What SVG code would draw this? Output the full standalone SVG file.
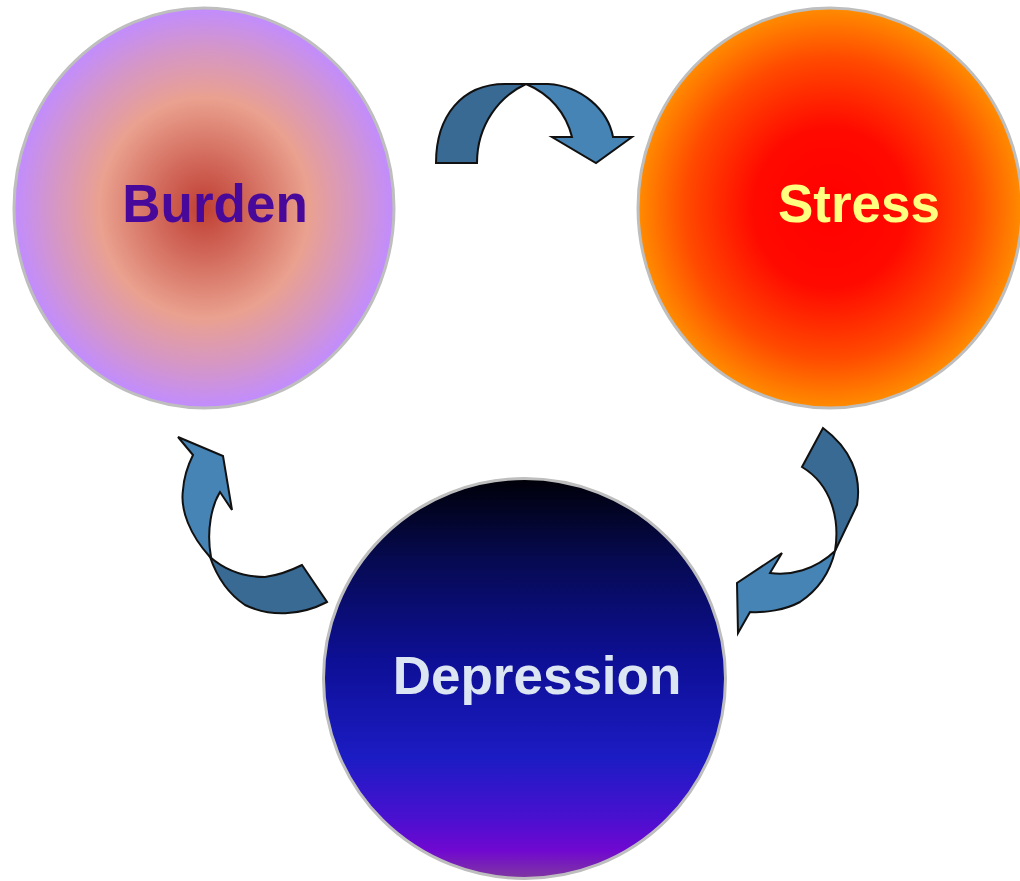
<svg xmlns="http://www.w3.org/2000/svg" width="1020" height="881" viewBox="0 0 1020 881">
<style>
.node{stroke:#BEBEBE;stroke-width:3}
.lbl{font-family:"Liberation Sans",Arial,sans-serif;font-weight:bold;font-size:53px;text-anchor:middle}
.light{fill:#4684B6;stroke:#111;stroke-width:2;stroke-linejoin:miter}
.dark{fill:#386A93;stroke:#111;stroke-width:2;stroke-linejoin:miter}
</style>
<defs>
<radialGradient id="gBurden" cx="0.5" cy="0.5" r="0.5">
<stop offset="0" stop-color="#C03F33"/>
<stop offset="0.25" stop-color="#D26A5C"/>
<stop offset="0.55" stop-color="#EAA18F"/>
<stop offset="0.8" stop-color="#D496C8"/>
<stop offset="1" stop-color="#C18CFF"/>
</radialGradient>
<radialGradient id="gStress" cx="0.5" cy="0.5" r="0.5">
<stop offset="0" stop-color="#FF0000"/>
<stop offset="0.4" stop-color="#FF0A00"/>
<stop offset="0.75" stop-color="#FF4A00"/>
<stop offset="1" stop-color="#FF8C00"/>
</radialGradient>
<linearGradient id="gDep" x1="0" y1="0" x2="0" y2="1">
<stop offset="0" stop-color="#000008"/>
<stop offset="0.2" stop-color="#060A50"/>
<stop offset="0.45" stop-color="#0D0F94"/>
<stop offset="0.7" stop-color="#1C1CC4"/>
<stop offset="0.85" stop-color="#4A10D0"/>
<stop offset="0.93" stop-color="#7008D0"/>
<stop offset="1" stop-color="#8038A0"/>
</linearGradient>
</defs>
<g id="connectors">
<g id="arrow-burden-stress">
<path class="dark" d="M436,163 C436,116 462,84 505,84 L526,84 C500,96 477,124 477,163 Z"/>
<path class="light" d="M526,84 L548,84 C582,86 608,110 613,137 L632,137 L596,163 L552,137 L572,137 C566,113 550,94 526,84 Z"/>
</g>
<g id="arrow-stress-depression">
<path class="dark" d="M823,428 C850,448 862,475 857,505 L835,551 C840,520 832,485 802,467 Z"/>
<path class="light" d="M835,551 C830,572 818,590 800,602 C785,610 765,613 750,612 L738,633 L737,583 L782,553 L770,573 C790,576 815,570 835,551 Z"/>
</g>
<g id="arrow-depression-burden">
<path class="dark" d="M327,602 C300,616 270,617 245,605 C230,595 218,580 210,557 C225,570 245,577 265,577 C280,575 292,570 302,565 Z"/>
<path class="light" d="M210,557 C190,535 180,510 183,490 C184,475 188,465 193,455 L178,437 L223,456 L232,510 L220,492 C212,505 206,530 211,557 Z"/>
</g>
</g>
<g id="node-burden">
<ellipse class="node" cx="204" cy="208" rx="190" ry="200" fill="url(#gBurden)"/>
<text class="lbl" x="215" y="222" fill="#48089A">Burden</text>
</g>
<g id="node-stress">
<ellipse class="node" cx="830" cy="208" rx="192" ry="200" fill="url(#gStress)"/>
<text class="lbl" x="859" y="222" fill="#FFFF80">Stress</text>
</g>
<g id="node-depression">
<ellipse class="node" cx="524.5" cy="678.5" rx="201" ry="200" fill="url(#gDep)"/>
<text class="lbl" x="537" y="694" fill="#DCE6F2">Depression</text>
</g>
</svg>
